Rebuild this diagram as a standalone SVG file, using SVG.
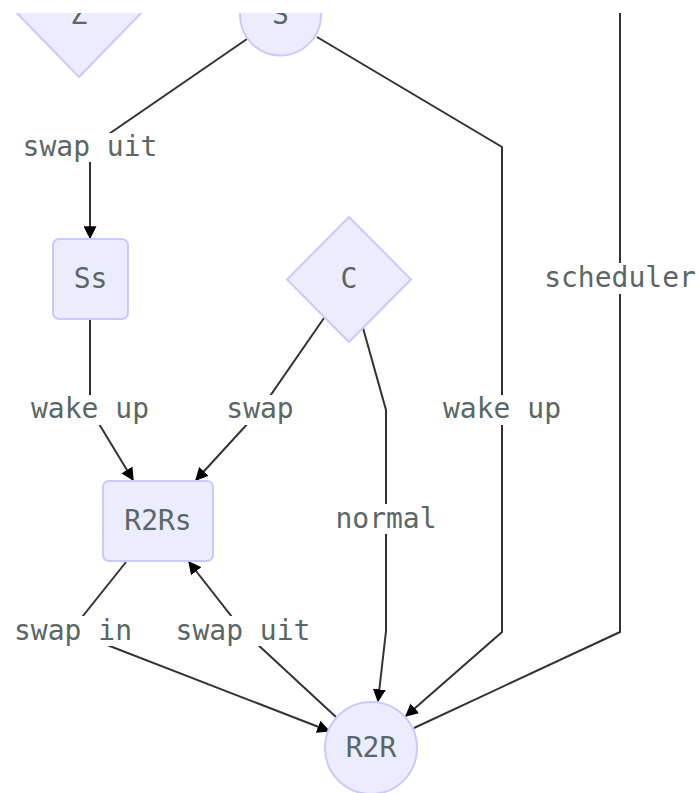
<svg xmlns="http://www.w3.org/2000/svg" width="699" height="793" viewBox="0 0 699 793">
<style>
.node{fill:#ececff;stroke:#c9c9ff;stroke-width:2}
.lbl{font-family:"DejaVu Sans Mono","Liberation Mono",monospace;font-size:28px;fill:#5a6767;text-anchor:middle;dominant-baseline:central}
.edge{fill:none;stroke:#333;stroke-width:2}
.bg{fill:#fff}
</style>
<defs>
<clipPath id="cl"><rect x="0" y="13" width="699" height="780"/></clipPath>
<marker id="arr" viewBox="0 0 10 10" refX="9" refY="5" markerUnits="userSpaceOnUse" markerWidth="13" markerHeight="13" orient="auto">
<path d="M0,0 L10,5 L0,10 z" fill="#000"/>
</marker>
</defs>
<rect width="699" height="793" fill="#fff"/>
<g clip-path="url(#cl)">
<g id="edges">
<path class="edge" d="M247,39 L90,147 L90,238" marker-end="url(#arr)"/>
<path class="edge" d="M90,319 L90,409 L133,480" marker-end="url(#arr)"/>
<path class="edge" d="M324,318 L261,409 L196,480" marker-end="url(#arr)"/>
<path class="edge" d="M363,328 L386,410 L386,631 L378,701" marker-end="url(#arr)"/>
<path class="edge" d="M317,37 L502,147 L502,632 L406,716" marker-end="url(#arr)"/>
<path class="edge" d="M620,0 L620,632 L414,728"/>
<path class="edge" d="M126,562 L71,631 L329,731" marker-end="url(#arr)"/>
<path class="edge" d="M336,717 L243,631 L189,562" marker-end="url(#arr)"/>
<g id="edge-labels">
<rect class="bg" x="18" y="133" width="144" height="29"/><text class="lbl" x="90" y="146">swap uit</text>
<rect class="bg" x="25" y="395" width="130" height="30"/><text class="lbl" x="90" y="408">wake up</text>
<rect class="bg" x="222" y="395" width="76" height="30"/><text class="lbl" x="260" y="408">swap</text>
<rect class="bg" x="437" y="395" width="130" height="30"/><text class="lbl" x="502" y="408">wake up</text>
<rect class="bg" x="539" y="263" width="160" height="31"/><text class="lbl" x="620" y="277">scheduler</text>
<rect class="bg" x="330" y="504" width="112" height="30"/><text class="lbl" x="386" y="518">normal</text>
<rect class="bg" x="8" y="616" width="130" height="30"/><text class="lbl" x="73" y="630">swap in</text>
<rect class="bg" x="171" y="616" width="144" height="30"/><text class="lbl" x="243" y="630">swap uit</text>
</g>
</g>
<g id="node-Z"><polygon class="node" points="79,77 10,6 148,6"/><text class="lbl" x="79" y="14">Z</text></g>
<g id="node-S"><circle class="node" cx="280.5" cy="15" r="40.5"/><text class="lbl" x="280.5" y="14">S</text></g>
<g id="node-Ss"><rect class="node" x="53" y="239" width="75" height="80" rx="6"/><text class="lbl" x="90.5" y="278">Ss</text></g>
<g id="node-C"><polygon class="node" points="349,217 411,279.5 349,342 287,279.5"/><text class="lbl" x="349" y="278">C</text></g>
<g id="node-R2Rs"><rect class="node" x="103" y="481" width="110" height="80" rx="6"/><text class="lbl" x="158" y="520">R2Rs</text></g>
<g id="node-R2R"><circle class="node" cx="371" cy="748" r="46"/><text class="lbl" x="371" y="747">R2R</text></g>
</g>
</svg>
